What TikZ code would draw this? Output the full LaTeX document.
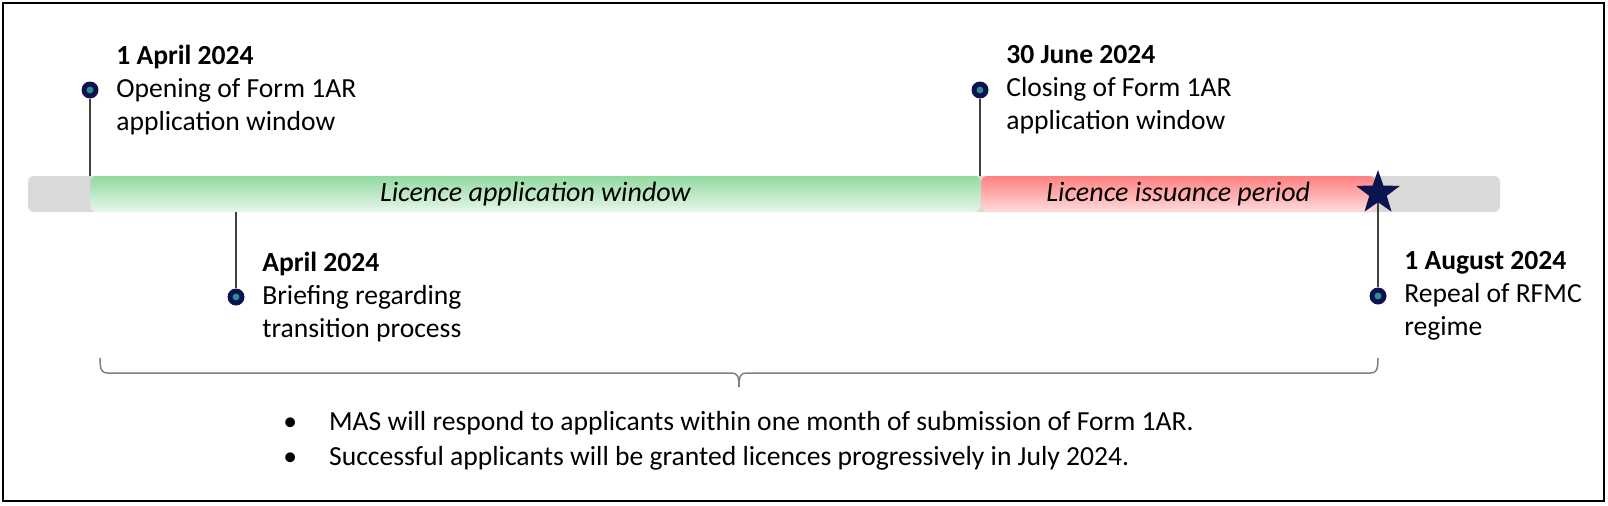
\documentclass[tikz,border=0pt]{standalone}
\usepackage{fontspec}
\setmainfont{Carlito}
\usetikzlibrary{shapes.geometric, positioning, calc}

\definecolor{navyblue}{RGB}{12,20,80}
\definecolor{dotcore}{RGB}{45,140,150}
\definecolor{trackgray}{RGB}{217,217,217}
\definecolor{stemgray}{RGB}{64,64,64}
\definecolor{bracegray}{RGB}{128,128,128}

\begin{document}
\begin{tikzpicture}[
    x=0.5pt, y=-0.5pt,
    % Node styles
    track/.style={
        rectangle, rounded corners=3pt, fill=trackgray,
        minimum height=18pt, inner sep=0pt
    },
    applybox/.style={
        rectangle, rounded corners=3pt,
        top color={rgb,255:red,146;green,218;blue,160},
        bottom color={rgb,255:red,232;green,246;blue,235},
        minimum height=18pt, inner sep=0pt,
        font=\fontsize{14}{16}\selectfont\itshape
    },
    issuebox/.style={
        rectangle, rounded corners=3pt,
        top color={rgb,255:red,255;green,128;blue,128},
        bottom color={rgb,255:red,255;green,220;blue,220},
        minimum height=18pt, inner sep=0pt,
        font=\fontsize{14}{16}\selectfont\itshape
    },
    eventdot/.style={
        circle, fill=navyblue, minimum size=8.5pt, inner sep=0pt,
        path picture={\fill[dotcore] (path picture bounding box.center) circle (1.7pt);}
    },
    evtext/.style={
        anchor=west, align=left, inner sep=0pt,
        font=\fontsize{13.8}{16.5}\selectfont
    },
    stem/.style={
        stemgray, line width=0.6pt
    },
    notes/.style={
        anchor=west, inner sep=0pt,
        font=\fontsize{13.8}{17.6}\selectfont
    }
]
\useasboundingbox (0,0) rectangle (1608,505);

% --- Frame ---
\draw[line width=1pt] (3,3) rectangle (1604,501);

% --- Timeline bar ---
\node[track, minimum width=736pt] (track) at (764,194) {};
\node[applybox, minimum width=445pt, anchor=west] (apply) at (90,194) {Licence application window};
\node[issuebox, minimum width=197pt, anchor=west] (issue) at (apply.east) {Licence issuance period};

% --- Events ---
\node[eventdot] (d1) at (90,90) {};
\node[evtext, right=8.5pt of d1] (t1) {\textbf{1 April 2024}\\Opening of Form 1AR\\application window};
\draw[stem] (d1) -- (d1 |- apply.north);

\node[eventdot] (d2) at (980,90) {};
\node[evtext, right=8.5pt of d2] (t2) {\textbf{30 June 2024}\\Closing of Form 1AR\\application window};
\draw[stem] (d2) -- (d2 |- issue.north);

\node[eventdot] (d3) at (236,297) {};
\node[evtext, right=8.5pt of d3] (t3) {\textbf{April 2024}\\Briefing regarding\\transition process};
\draw[stem] (d3 |- apply.south) -- (d3);

\node[eventdot] (d4) at (1378,296) {};
\node[evtext, right=8.5pt of d4] (t4) {\textbf{1 August 2024}\\Repeal of RFMC\\regime};
\draw[stem] (1378,194) -- (d4);
\node[star, star points=5, star point ratio=2.5, fill=navyblue,
    minimum size=23pt, inner sep=0pt] (repeal) at (1378,193) {};

% --- Brace and notes ---
\coordinate (bl) at (100,358);
\coordinate (br) at (1378,358);
\coordinate (tip) at (739,387);
\draw[bracegray, line width=0.75pt]
    (bl) .. controls ($(bl)+(0,13)$) and ($(bl)+(2,15)$) .. ($(bl)+(8,15)$)
    -- ($(tip)+(-8,-14)$) .. controls ($(tip)+(-2,-14)$) and ($(tip)+(0,-12)$) .. (tip)
    (tip) .. controls ($(tip)+(0,-12)$) and ($(tip)+(2,-14)$) .. ($(tip)+(8,-14)$)
    -- ($(br)+(-8,15)$) .. controls ($(br)+(-2,15)$) and ($(br)+(0,13)$) .. (br);

\node[notes] (bullets) at (283,441) {%
    \begin{tabular}{@{}l@{\hspace{16pt}}l@{}}
    \textbullet & MAS will respond to applicants within one month of submission of Form 1AR.\\
    \textbullet & Successful applicants will be granted licences progressively in July 2024.
    \end{tabular}};

\end{tikzpicture}
\end{document}
